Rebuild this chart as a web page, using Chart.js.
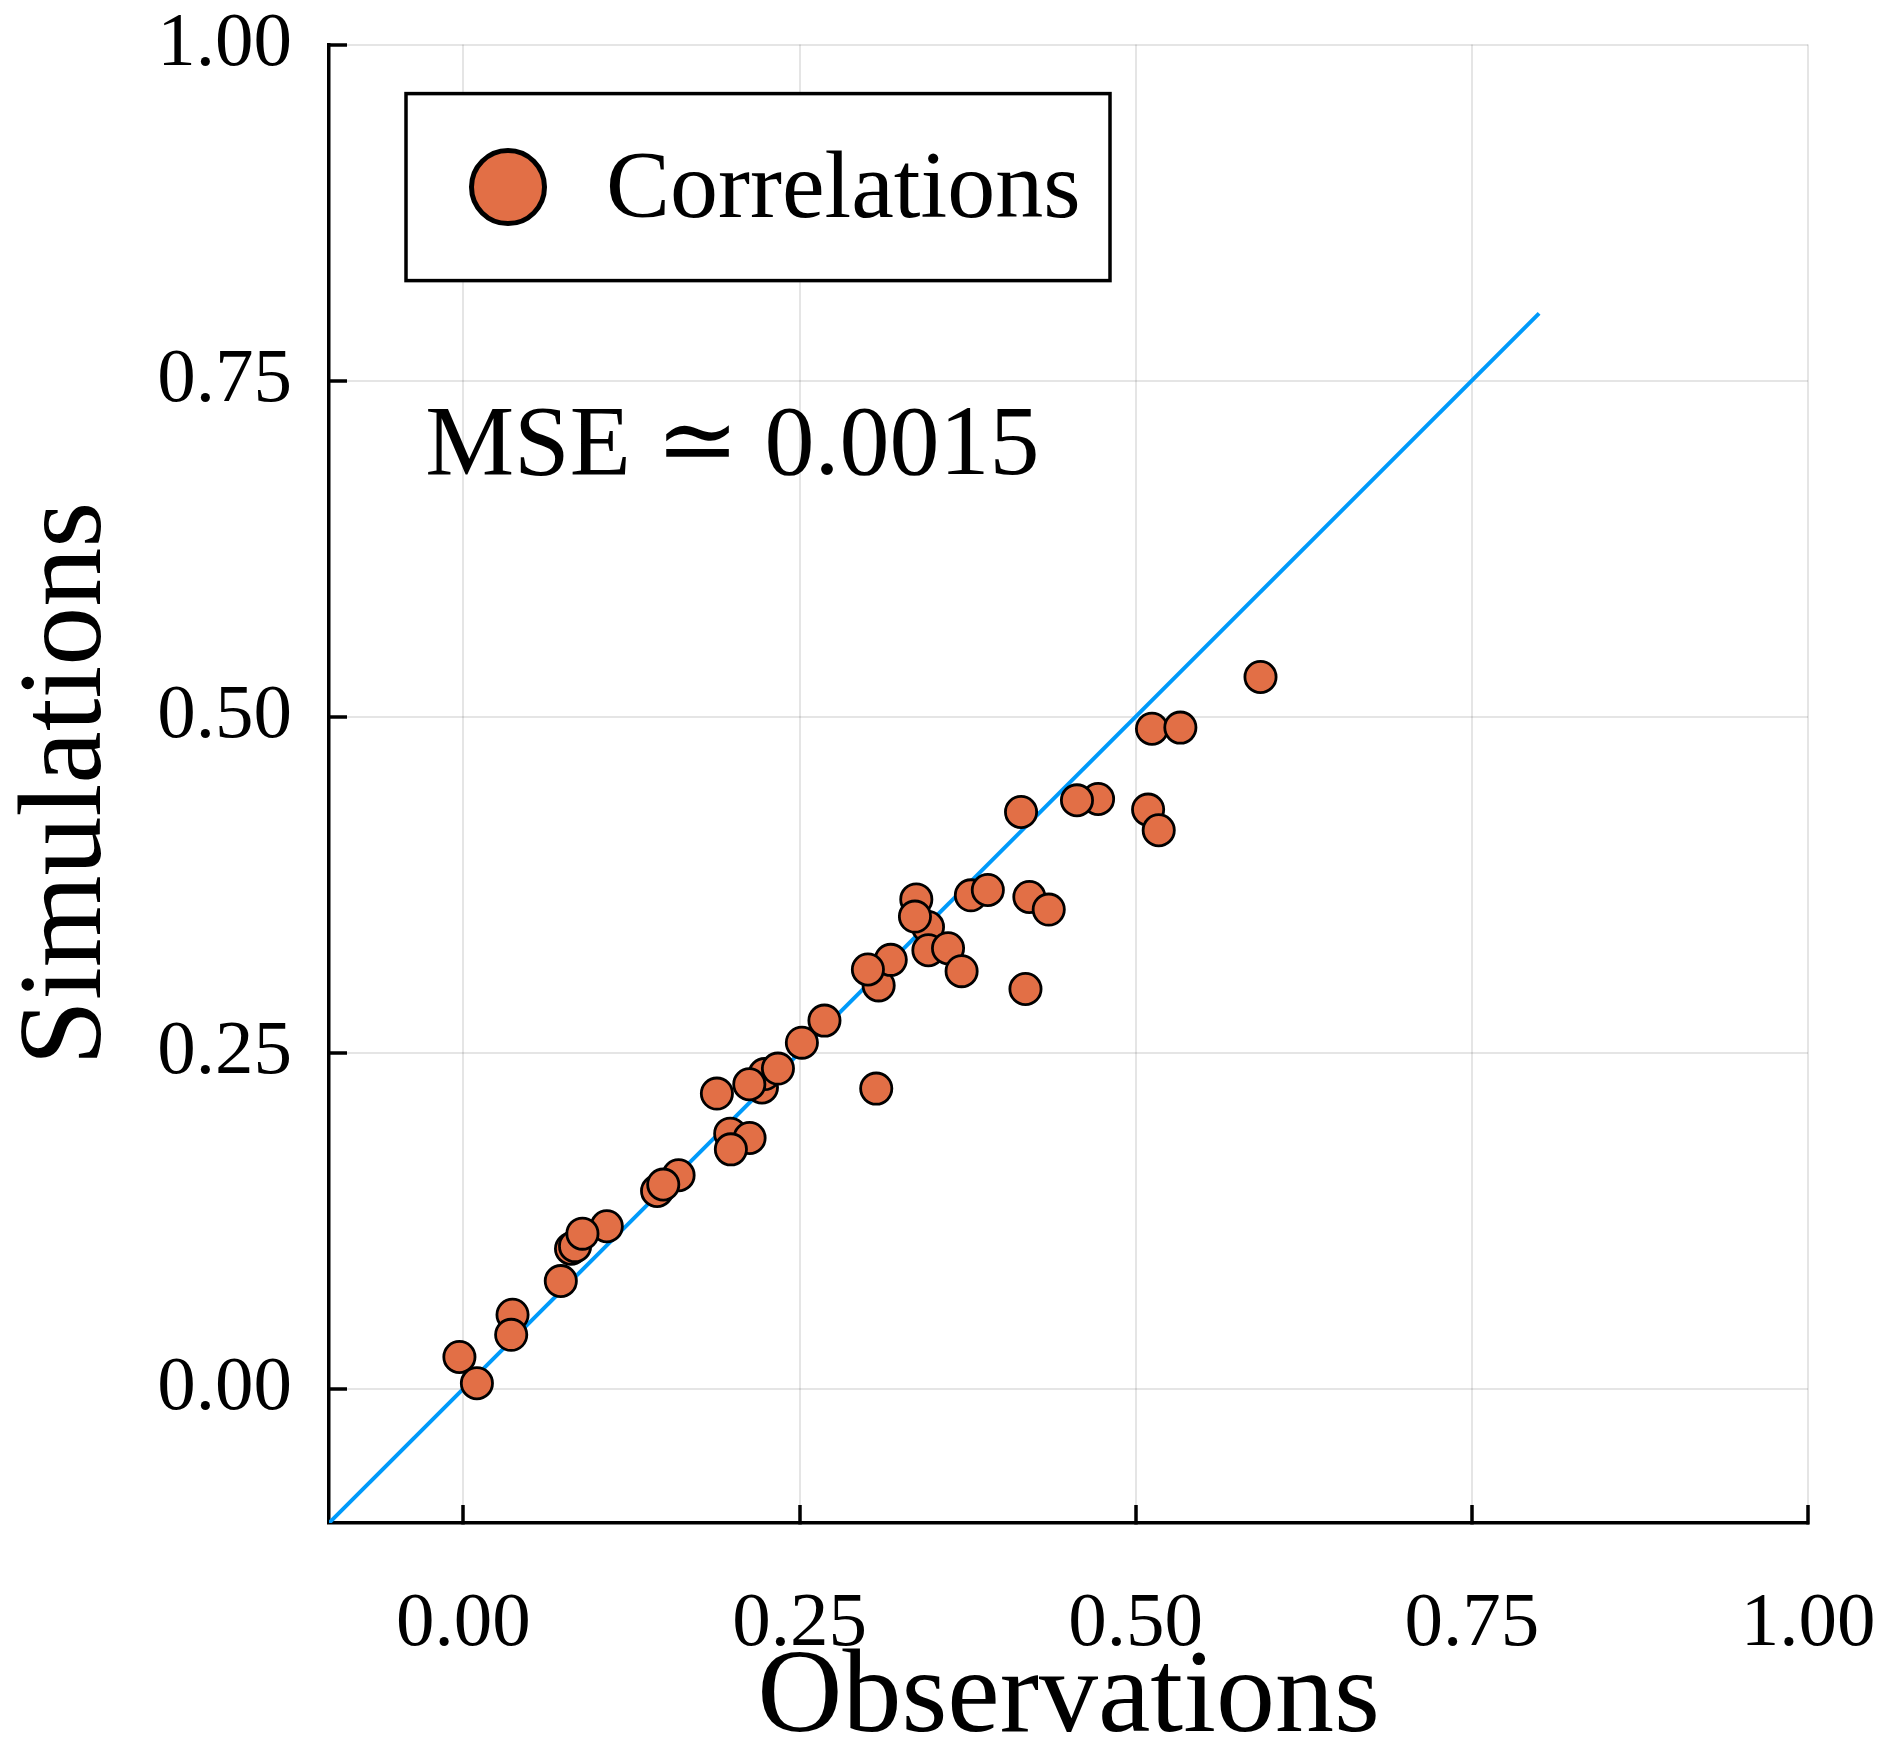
<!DOCTYPE html>
<html>
<head>
<meta charset="utf-8">
<script src="https://cdn.jsdelivr.net/npm/chart.js@4.4.1/dist/chart.umd.min.js"></script>
<style>
  html, body { margin: 0; padding: 0; background: #fff; }
  #wrap { width: 1892px; height: 1755px; }
</style>
</head>
<body>
<div id="wrap"><canvas id="chart" width="1892" height="1755"></canvas></div>
<script>
const obsValues = [
  -0.003, 0.010, 0.0365, 0.0355, 0.0724, 0.1066, 0.080, 0.083, 0.0885,
  0.144, 0.160, 0.1486, 0.1984, 0.2128, 0.1989, 0.1885, 0.222, 0.224,
  0.2126, 0.2339, 0.2517, 0.2685, 0.307, 0.3088, 0.3178, 0.3008,
  0.3455, 0.3368, 0.3358, 0.3458, 0.3604, 0.3705, 0.3774, 0.3900,
  0.4180, 0.4209, 0.4353, 0.4147, 0.4720, 0.4563, 0.5092, 0.5171,
  0.5121, 0.5332, 0.5928
];
const simValues = [
  0.0235, 0.004, 0.055, 0.040, 0.080, 0.1208, 0.104, 0.106, 0.1153,
  0.147, 0.1587, 0.1518, 0.1897, 0.1865, 0.178, 0.2195, 0.224, 0.234,
  0.2264, 0.2381, 0.2574, 0.2738, 0.2232, 0.300, 0.3190, 0.3118,
  0.3435, 0.3640, 0.3512, 0.3261, 0.3276, 0.3106, 0.3670, 0.3710,
  0.2973, 0.3658, 0.3564, 0.4290, 0.4387, 0.4377, 0.4308, 0.4154,
  0.4910, 0.4918, 0.5295
];

// identity line
const refLineX = [-0.1, 0.8];
const refLineY = [-0.1, 0.8];

// axes
const axisMin = -0.1;
const axisMax = 1.0;
const tickValues = [0, 0.25, 0.5, 0.75, 1.0];
const tickLabels = ['0.00', '0.25', '0.50', '0.75', '1.00'];

const seriesName = 'Correlations';
const mseLabel = 'MSE \u2243 0.0015';
const mseAnchor = [0.2, 0.7];

const FONT = '"Liberation Serif", "DejaVu Serif", serif';
const ORANGE = '#E26F46';
const BLUE = '#009AFA';

const scatterPoints = obsValues.map((x, i) => ({ x: x, y: simValues[i] }));
const linePoints = refLineX.map((x, i) => ({ x: x, y: refLineY[i] }));

function setTicks(scale) {
  scale.ticks = tickValues.map(v => ({ value: v }));
}

// keep the plot box where it is: no extra room for overhanging labels
function noPadding(scale) {
  scale.paddingLeft = 0;
  scale.paddingRight = 0;
  scale.paddingTop = 0;
  scale.paddingBottom = 0;
}

const gridStyle = {
  color: 'rgba(0,0,0,0.1)',
  lineWidth: 2,
  tickLength: -18,
  tickColor: '#000',
  tickWidth: 3.5
};

// legend box + annotation drawn on top of the plot
const overlay = {
  id: 'overlay',
  afterDraw(chart) {
    const ctx = chart.ctx;
    const area = chart.chartArea;
    const xs = chart.scales.x;
    const ys = chart.scales.y;

    ctx.save();
    // annotation
    ctx.fillStyle = '#000';
    ctx.font = '100px ' + FONT;
    ctx.textAlign = 'center';
    ctx.textBaseline = 'middle';
    ctx.fillText(mseLabel, xs.getPixelForValue(mseAnchor[0]), ys.getPixelForValue(mseAnchor[1]));

    // legend
    const bx = area.left + 77, by = area.top + 49, bw = 704, bh = 187;
    ctx.fillStyle = '#fff';
    ctx.fillRect(bx, by, bw, bh);
    ctx.lineWidth = 3.5;
    ctx.strokeStyle = '#000';
    ctx.strokeRect(bx, by, bw, bh);

    ctx.beginPath();
    ctx.arc(bx + 102, by + 93.5, 36.5, 0, Math.PI * 2);
    ctx.fillStyle = ORANGE;
    ctx.fill();
    ctx.lineWidth = 5;
    ctx.stroke();

    ctx.fillStyle = '#000';
    ctx.font = '96px ' + FONT;
    ctx.textAlign = 'left';
    ctx.textBaseline = 'alphabetic';
    ctx.fillText(seriesName, bx + 200, by + 123.5);
    ctx.restore();
  }
};

new Chart(document.getElementById('chart'), {
  type: 'scatter',
  data: {
    datasets: [
      {
        label: seriesName,
        data: scatterPoints,
        backgroundColor: ORANGE,
        borderColor: '#000',
        borderWidth: 2.8,
        pointRadius: 15.6,
        pointHoverRadius: 15.6
      },
      {
        type: 'line',
        label: 'identity',
        data: linePoints,
        borderColor: BLUE,
        borderWidth: 4,
        pointRadius: 0,
        fill: false
      }
    ]
  },
  options: {
    responsive: false,
    animation: false,
    devicePixelRatio: 1,
    layout: { padding: { top: 44.6, right: 84, left: 0, bottom: 0 } },
    plugins: {
      legend: { display: false },
      tooltip: { enabled: false }
    },
    scales: {
      x: {
        type: 'linear',
        min: axisMin,
        max: axisMax,
        afterBuildTicks: setTicks,
        afterFit(scale) { scale.height = 232; noPadding(scale); },
        ticks: {
          callback: (v, i) => tickLabels[i],
          font: { family: FONT, size: 77 },
          color: '#000',
          padding: 74,
          maxRotation: 0,
          autoSkip: false
        },
        grid: gridStyle,
        border: { color: '#000', width: 3.5 },
        title: {
          display: true,
          text: 'Observations',
          font: { family: FONT, size: 118 },
          color: '#000',
          padding: { top: 0, bottom: -16 }
        }
      },
      y: {
        type: 'linear',
        min: axisMin,
        max: axisMax,
        afterBuildTicks: setTicks,
        afterFit(scale) { scale.width = 329; noPadding(scale); },
        ticks: {
          callback: (v, i) => tickLabels[i],
          font: { family: FONT, size: 77 },
          color: '#000',
          padding: 55,
          autoSkip: false
        },
        grid: gridStyle,
        border: { color: '#000', width: 3.5 },
        title: {
          display: true,
          text: 'Simulations',
          font: { family: FONT, size: 118 },
          color: '#000',
          padding: { top: -2, bottom: 0 }
        }
      }
    }
  },
  plugins: [overlay]
});
</script>
</body>
</html>
